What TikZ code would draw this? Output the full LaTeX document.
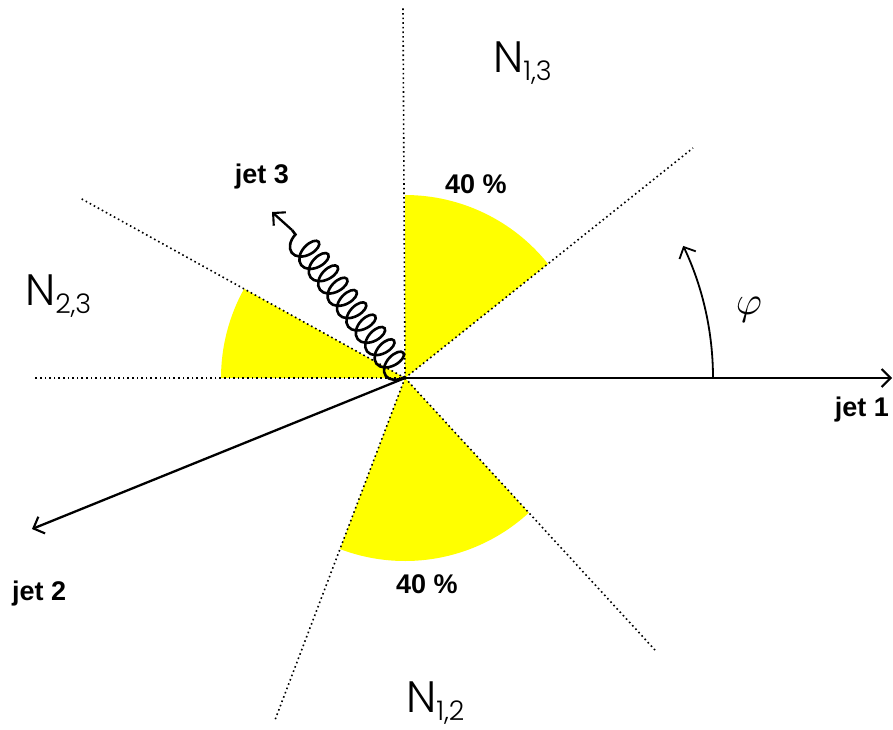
\documentclass[tikz,border=0pt]{standalone}
\usepackage{fontspec}
\setmainfont{Liberation Sans}
\newfontfamily\nfont{Poppins}[UprightFont={* Light}]
\usetikzlibrary{arrows.meta,decorations.pathmorphing}
\definecolor{secyellow}{RGB}{255,255,0}
\tikzset{
  sector/.style={fill=secyellow, draw=none},
  border/.style={line width=1.6pt, dash pattern=on 1.6pt off 3pt},
  jetarrow/.style={line width=2.3pt, -{Straight Barb[length=9pt,width=18pt,line width=2.1pt]}},
  boldlabel/.style={font=\bfseries\fontsize{27}{28}\selectfont, inner sep=0pt},
  nlabel/.style={font=\nfont\fontsize{44}{44}\selectfont, inner sep=0pt},
  philabel/.style={inner sep=0pt},
  gluon/.style={line width=2.6pt, decorate, decoration={coil, amplitude=14pt, segment length=15.5pt, aspect=0.6, pre length=1pt, post length=1pt}}
}
\newcommand{\nsub}[1]{\raisebox{-8pt}{\fontsize{27}{27}\selectfont #1}}
\begin{document}
\begin{tikzpicture}[x=1pt,y=-1pt]
\useasboundingbox (0,0) rectangle (893,729);
\coordinate (O) at (405,378);
% sectors
\fill[sector] (O) -- ++(90:-183) arc[start angle=-90, end angle=-38.6, radius=183] -- cycle;
\fill[sector] (O) -- ++(-184,0) arc[start angle=180, end angle=209, radius=184] -- cycle;
\fill[sector] (O) -- ++(110.8:183) arc[start angle=110.8, end angle=47.4, radius=183] -- cycle;
% border lines
\coordinate (bu) at (403,8);
\coordinate (bur) at (693,148);
\coordinate (bl) at (35,378);
\coordinate (bul) at (80,198);
\coordinate (bdl) at (275,720);
\coordinate (bdr) at (655,650);
\foreach \e in {bu,bur,bl,bul,bdl,bdr} \draw[border] (O) -- (\e);
% jets
\coordinate (j1) at (892,378);
\coordinate (j2) at (32,529);
\draw[jetarrow] (O) -- (j1);
\draw[jetarrow] (O) -- (j2);
% gluon
\coordinate (g) at (292,230);
\coordinate (j3) at (272,212);
\draw[gluon] (O) -- (g);
\draw[jetarrow] (g) -- (j3);
% phi arc
\coordinate (p0) at (713,378);
\draw[line width=1.8pt, -{Straight Barb[length=9pt,width=18pt,line width=1.8pt]}] (p0) arc[start angle=0, end angle=-25.4, radius=308];
% labels
\node[boldlabel, anchor=base east] (l3) at (289,183) {jet 3};
\node[boldlabel, anchor=base east] (l1) at (889,416) {jet 1};
\node[boldlabel, anchor=base west] (l2) at (12,600) {jet 2};
\node[boldlabel, anchor=base] (pt) at (476,193) {40 \%};
\node[boldlabel, anchor=base] (pb) at (427,593) {40 \%};
\node[philabel] (phi) at (749,310) {\scalebox{4}{$\varphi$}};
\node[nlabel, anchor=base west] (n13) at (493,72) {N\nsub{1,3}};
\node[nlabel, anchor=base west] (n23) at (25,305) {N\nsub{2,3}};
\node[nlabel, anchor=base west] (n12) at (406,712) {N\nsub{1,2}};
\end{tikzpicture}
\end{document}
